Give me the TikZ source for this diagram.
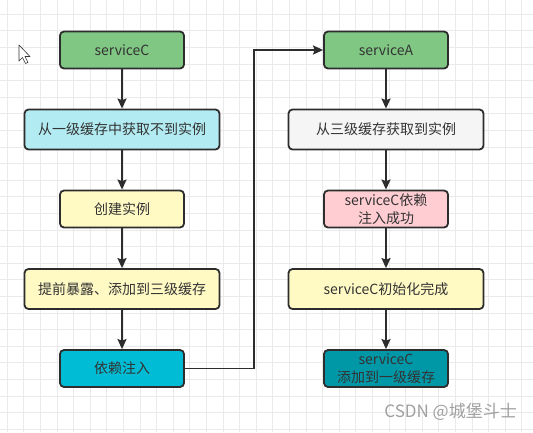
\documentclass[tikz,border=0pt]{standalone}
\usepackage{fontspec}
\setmainfont{Noto Sans CJK SC}
\usetikzlibrary{arrows.meta}
\definecolor{gridc}{HTML}{EAEAEA}
\definecolor{bordc}{HTML}{2D2D2D}
\definecolor{txtc}{HTML}{333333}
\definecolor{cgreen}{HTML}{81C784}
\definecolor{clcyan}{HTML}{B2EBF2}
\definecolor{cyellow}{HTML}{FFF9C4}
\definecolor{ccyan}{HTML}{00BCD4}
\definecolor{cgrey}{HTML}{F5F5F5}
\definecolor{cpink}{HTML}{FFCDD2}
\definecolor{cteal}{HTML}{0097A7}
\definecolor{wmark}{HTML}{A0A0A0}
\tikzset{
  box/.style={draw=bordc, line width=1.8pt, rounded corners=4pt, align=center,
    text=txtc, font=\fontsize{14}{18}\selectfont, inner sep=0pt},
  smallbox/.style={box, minimum width=124pt, minimum height=37pt},
  widebox/.style={box, minimum width=195pt, minimum height=40pt},
  arr/.style={draw=bordc, line width=1.8pt, -{Stealth[length=10pt,width=9pt,inset=1.5pt]}},
}
\begin{document}
\begin{tikzpicture}[x=1pt,y=-1pt]
\useasboundingbox (0,0) rectangle (533,432);
\fill[white] (0,0) rectangle (533,432);
% grid
\foreach \i in {0,...,32} {
  \draw[gridc, line width=0.6pt] ({7+16.6*\i},0) -- ({7+16.6*\i},432);
}
\foreach \j in {0,...,26} {
  \draw[gridc, line width=0.6pt] (0,{14+16.6*\j}) -- (533,{14+16.6*\j});
}
% cursor
\draw[fill=white, draw=black!80, line width=0.6pt, line join=round]
  (19,45) -- (19,61) -- (22.5,57.5) -- (25.5,63.5) -- (28,62.5) -- (25,56.5) -- (30,56.5) -- cycle;
% left column
\node[smallbox, fill=cgreen] (sC) at (122,50) {serviceC};
\node[widebox, fill=clcyan] (n1) at (122,129.5) {从一级缓存中获取不到实例};
\node[smallbox, fill=cyellow] (n2) at (122,209) {创建实例};
\node[widebox, fill=cyellow] (n3) at (122,289) {提前暴露、添加到三级缓存};
\node[smallbox, fill=ccyan] (n4) at (122,368.5) {依赖注入};
% right column
\node[smallbox, fill=cgreen] (sA) at (386,50) {serviceA};
\node[widebox, fill=cgrey] (m1) at (386,129.5) {从三级缓存获取到实例};
\node[smallbox, fill=cpink] (m2) at (386,209) {serviceC依赖\\注入成功};
\node[widebox, fill=cyellow] (m3) at (386,289) {serviceC初始化完成};
\node[smallbox, fill=cteal] (m4) at (386,368.5) {serviceC\\添加到一级缓存};
% arrows
\draw[arr] (sC) -- (n1);
\draw[arr] (n1) -- (n2);
\draw[arr] (n2) -- (n3);
\draw[arr] (n3) -- (n4);
\draw[arr] (sA) -- (m1);
\draw[arr] (m1) -- (m2);
\draw[arr] (m2) -- (m3);
\draw[arr] (m3) -- (m4);
\coordinate (c1) at (254,368.5);
\coordinate (c2) at (254,50);
\draw[arr] (n4.east) -- (c1) -- (c2) -- (sA.west);
% watermark
\node[text=wmark, font=\fontsize{17}{19}\selectfont, anchor=east, inner sep=0pt] (wm) at (517,412) {CSDN @城堡斗士};
\end{tikzpicture}
\end{document}
